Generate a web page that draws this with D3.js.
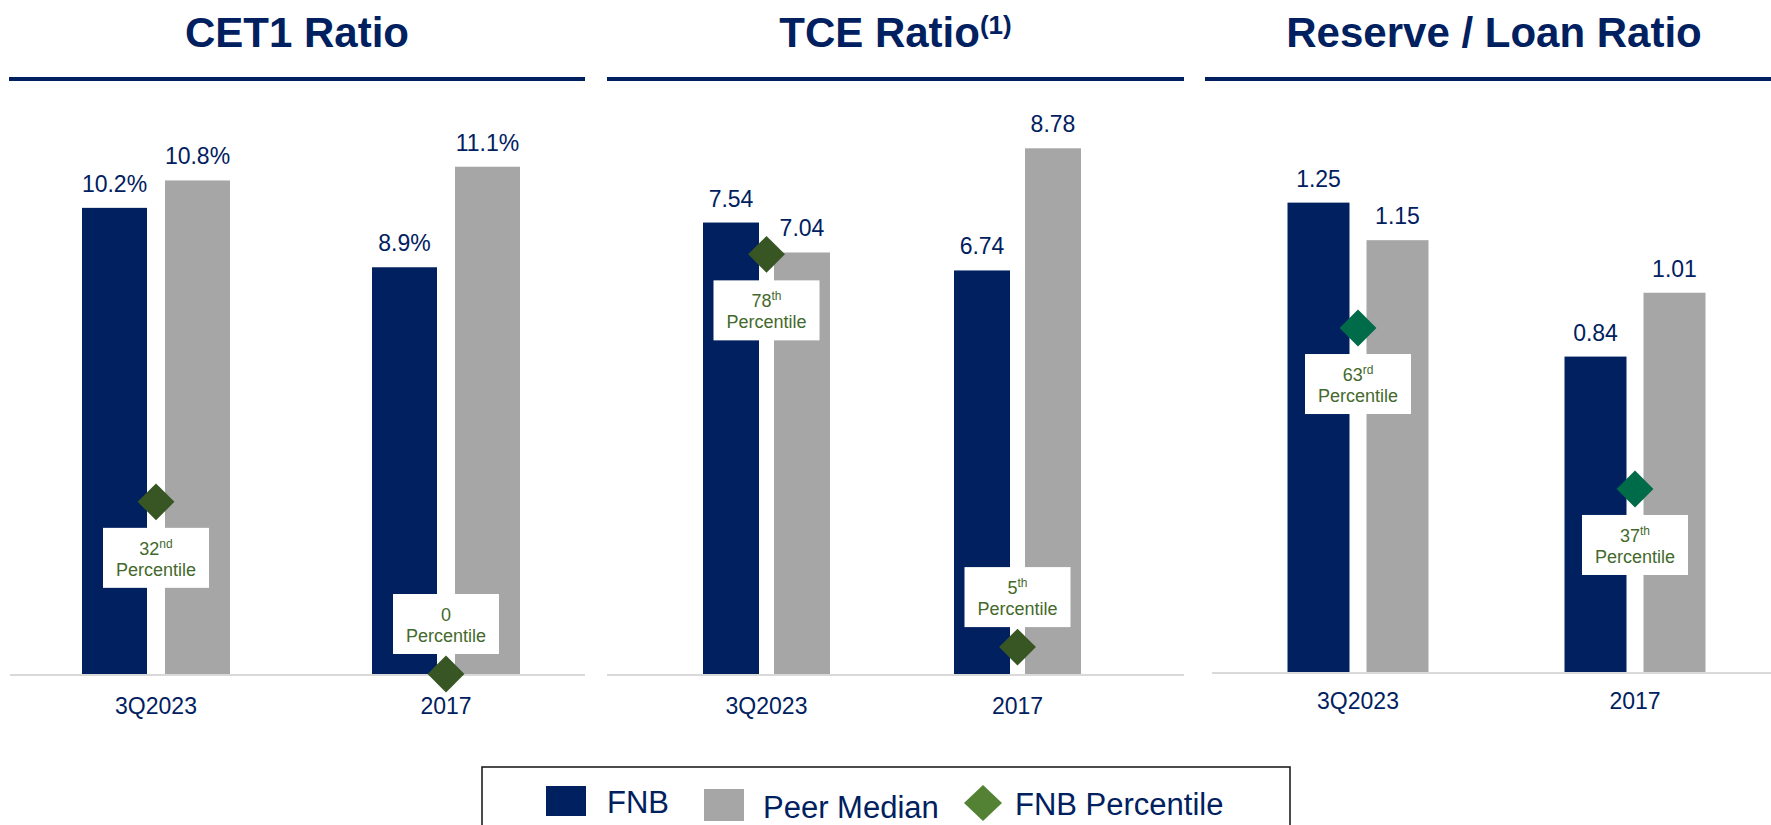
<!DOCTYPE html>
<html>
<head>
<meta charset="utf-8">
<script src="https://cdn.jsdelivr.net/npm/d3@7"></script>
<style>
  body { margin: 0; background: #fff; }
  text { font-family: "Liberation Sans", Arial, sans-serif; }
</style>
</head>
<body>
<script>
// data
var categories = ["3Q2023", "2017"];

var cet1Fnb = [10.2, 8.9];
var cet1Peer = [10.8, 11.1];
var cet1Pct = [32, 0];

var tceFnb = [7.54, 6.74];
var tcePeer = [7.04, 8.78];
var tcePct = [78, 5];

var reserveFnb = [1.25, 0.84];
var reservePeer = [1.15, 1.01];
var reservePct = [63, 37];

var legendLabels = ["FNB", "Peer Median", "FNB Percentile"];

var navy = "#002060";
var gray = "#a6a6a6";
var pctText = "#44692c";

var svgWidth = 1771;
var svgHeight = 825;

var svg = d3.select("body")
  .append("svg")
  .attr("width", svgWidth)
  .attr("height", svgHeight);

// one entry per chart panel, layout only + references to the arrays above
var panels = [
  {
    title: "CET1 Ratio", sup: "",
    fnb: cet1Fnb, peer: cet1Peer, pct: cet1Pct,
    fmt: function(v) { return v.toFixed(1) + "%"; },
    rule: [9, 585], axisLine: [10, 585],
    xRange: [11, 591], barW: 65, gap: 18,
    base: 674, unit: 10, unitTop: 217, labelPad: 23,
    pctRange: [674, 136], diamond: "#375623"
  },
  {
    title: "TCE Ratio", sup: "(1)",
    fnb: tceFnb, peer: tcePeer, pct: tcePct,
    fmt: function(v) { return v.toFixed(2); },
    rule: [607, 1184], axisLine: [607, 1184],
    xRange: [641, 1143], barW: 56, gap: 15,
    base: 674, unit: 8, unitTop: 195, labelPad: 23,
    pctRange: [674, 136], diamond: "#375623"
  },
  {
    title: "Reserve / Loan Ratio", sup: "",
    fnb: reserveFnb, peer: reservePeer, pct: reservePct,
    fmt: function(v) { return v.toFixed(2); },
    rule: [1205, 1771], axisLine: [1212, 1771],
    xRange: [1219.5, 1773.5], barW: 62, gap: 17,
    base: 672, unit: 1, unitTop: 296.5, labelPad: 20,
    pctRange: [718, 99], diamond: "#006b48"
  }
];

function ordinal(n) {
  if (n === 0) return "";
  var s = n % 100;
  if (s >= 11 && s <= 13) return "th";
  switch (n % 10) {
    case 1: return "st";
    case 2: return "nd";
    case 3: return "rd";
    default: return "th";
  }
}

function drawPanel(p) {
  var g = svg.append("g");
  var center = (p.rule[0] + p.rule[1]) / 2;
  if (p.rule[1] >= svgWidth) center = p.rule[0] + 289;

  // title
  var title = g.append("text")
    .attr("x", center)
    .attr("y", 47)
    .attr("text-anchor", "middle")
    .attr("font-size", 42)
    .attr("font-weight", "bold")
    .attr("fill", navy)
    .text(p.title);
  if (p.sup) {
    title.append("tspan")
      .attr("font-size", 26)
      .attr("dy", -13)
      .text(p.sup);
  }

  g.append("rect")
    .attr("x", p.rule[0])
    .attr("y", 77)
    .attr("width", p.rule[1] - p.rule[0])
    .attr("height", 4)
    .attr("fill", navy);

  // scales
  var x0 = d3.scaleBand()
    .domain(categories)
    .range(p.xRange);

  var cluster = p.barW * 2 + p.gap;
  var x1 = d3.scaleBand()
    .domain(["fnb", "peer"])
    .range([-cluster / 2, cluster / 2])
    .paddingInner(p.gap / (p.barW + p.gap));

  var y = d3.scaleLinear()
    .domain([0, p.unit])
    .range([p.base, p.unitTop]);

  var yPct = d3.scaleLinear()
    .domain([0, 100])
    .range(p.pctRange);

  var rows = categories.map(function(c, i) {
    return { cat: c, fnb: p.fnb[i], peer: p.peer[i], pct: p.pct[i] };
  });

  // axis line
  g.append("line")
    .attr("x1", p.axisLine[0])
    .attr("x2", p.axisLine[1])
    .attr("y1", p.base + 1)
    .attr("y2", p.base + 1)
    .attr("stroke", "#d9d9d9")
    .attr("stroke-width", 2);

  var groups = g.selectAll(".grp")
    .data(rows)
    .enter()
    .append("g")
    .attr("transform", function(d) { return "translate(" + (x0(d.cat) + x0.bandwidth() / 2) + ",0)"; });

  ["fnb", "peer"].forEach(function(key) {
    groups.append("rect")
      .attr("x", x1(key))
      .attr("y", function(d) { return y(d[key]); })
      .attr("width", x1.bandwidth())
      .attr("height", function(d) { return p.base - y(d[key]); })
      .attr("fill", key === "fnb" ? navy : gray);

    groups.append("text")
      .attr("x", x1(key) + x1.bandwidth() / 2)
      .attr("y", function(d) { return y(d[key]) - 16; })
      .attr("text-anchor", "middle")
      .attr("font-size", 23)
      .attr("fill", navy)
      .text(function(d) { return p.fmt(d[key]); });
  });

  // category labels
  var xAxis = d3.axisBottom(x0).tickSize(0).tickPadding(p.labelPad);
  var ax = g.append("g")
    .attr("transform", "translate(0," + (p.base + 1) + ")")
    .call(xAxis);
  ax.select(".domain").remove();
  ax.selectAll("text")
    .attr("font-size", 23)
    .attr("font-family", "Liberation Sans, Arial, sans-serif")
    .attr("fill", navy);

  // percentile boxes + diamonds
  var boxW = 106, boxH = 60;
  groups.each(function(d) {
    var gg = d3.select(this);
    var dy = yPct(d.pct);
    var top = d.pct >= 20 ? dy + 26 : dy - 20 - boxH;
    gg.append("rect")
      .attr("x", -boxW / 2)
      .attr("y", top)
      .attr("width", boxW)
      .attr("height", boxH)
      .attr("fill", "#fff");
    var t1 = gg.append("text")
      .attr("x", 0)
      .attr("y", top + 27)
      .attr("text-anchor", "middle")
      .attr("font-size", 18)
      .attr("fill", pctText)
      .text(d.pct);
    var suf = ordinal(d.pct);
    if (suf) {
      t1.append("tspan")
        .attr("font-size", 12)
        .attr("dy", -7)
        .text(suf);
    }
    gg.append("text")
      .attr("x", 0)
      .attr("y", top + 48)
      .attr("text-anchor", "middle")
      .attr("font-size", 18)
      .attr("fill", pctText)
      .text("Percentile");
    gg.append("path")
      .attr("d", d3.symbol().type(d3.symbolSquare).size(680))
      .attr("transform", "translate(0," + dy + ") rotate(45)")
      .attr("fill", p.diamond);
  });
}

panels.forEach(drawPanel);

// legend
var legend = svg.append("g");
legend.append("rect")
  .attr("x", 482)
  .attr("y", 767)
  .attr("width", 808)
  .attr("height", 80)
  .attr("fill", "#fff")
  .attr("stroke", "#111")
  .attr("stroke-width", 1.5);

legend.append("rect")
  .attr("x", 546).attr("y", 786)
  .attr("width", 40).attr("height", 30)
  .attr("fill", navy);
legend.append("text")
  .attr("x", 607).attr("y", 813)
  .attr("font-size", 31).attr("fill", navy)
  .text(legendLabels[0]);

legend.append("rect")
  .attr("x", 704).attr("y", 789)
  .attr("width", 40).attr("height", 32)
  .attr("fill", gray);
legend.append("text")
  .attr("x", 763).attr("y", 818)
  .attr("font-size", 31).attr("fill", navy)
  .text(legendLabels[1]);

legend.append("path")
  .attr("d", "M0,-18L19,0L0,18L-19,0Z")
  .attr("transform", "translate(983,803)")
  .attr("fill", "#548235");
legend.append("text")
  .attr("x", 1015).attr("y", 815)
  .attr("font-size", 31).attr("fill", navy)
  .text(legendLabels[2]);
</script>
</body>
</html>
